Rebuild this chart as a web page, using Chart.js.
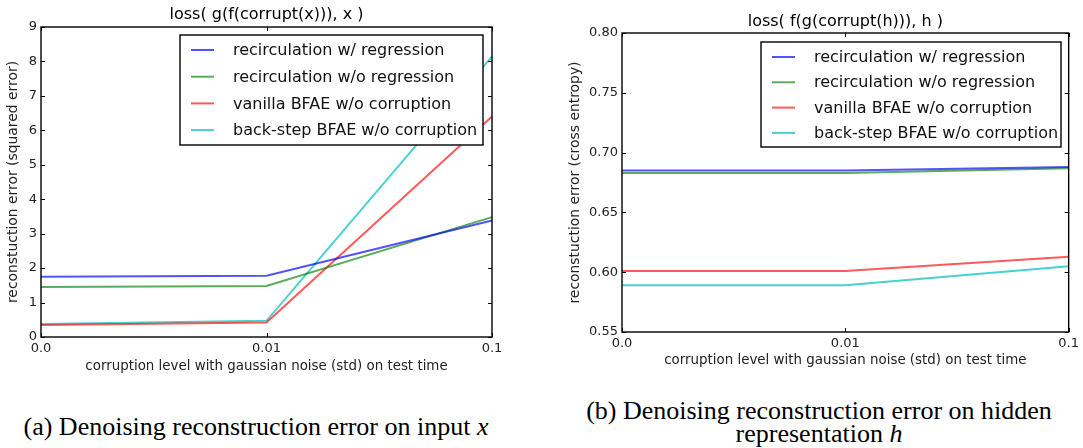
<!DOCTYPE html>
<html>
<head>
<meta charset="utf-8">
<script src="https://cdn.jsdelivr.net/npm/chart.js@4"></script>
<style>
  body { margin: 0; background: #fff; width: 1083px; height: 448px; position: relative; overflow: hidden; }
  .wrap { position: absolute; }
  .cap { position: absolute; font-family: 'Liberation Serif', serif; font-size: 26px; color: #000; text-align: center; white-space: nowrap; }
</style>
</head>
<body>
<div class="wrap" style="left:0;top:0"><canvas id="inputChart" width="540" height="380"></canvas></div>
<div class="wrap" style="left:555px;top:0"><canvas id="hiddenChart" width="528" height="375"></canvas></div>
<div class="cap" style="left:0;width:512px;top:413px;line-height:28px">(a) Denoising reconstruction error on input <i>x</i></div>
<div class="cap" style="left:560px;width:518px;top:399px;line-height:23px">(b) Denoising reconstruction error on hidden<br>representation <i>h</i></div>
<script>
// noise level on test time (categorical, equally spaced)
const noiseLevels = ['0.0', '0.01', '0.1'];
const seriesNames = ['recirculation w/ regression', 'recirculation w/o regression',
  'vanilla BFAE w/o corruption', 'back-step BFAE w/o corruption'];

// (a) squared error on input x
const inputRegression   = [1.75, 1.78, 3.38];
const inputNoRegression = [1.45, 1.48, 3.48];
const inputVanilla      = [0.35, 0.42, 6.40];
const inputBackStep     = [0.38, 0.47, 8.15];

// (b) cross entropy on hidden h
const hiddenRegression   = [0.685, 0.685, 0.688];
const hiddenNoRegression = [0.683, 0.683, 0.687];
const hiddenVanilla      = [0.601, 0.601, 0.613];
const hiddenBackStep     = [0.589, 0.589, 0.605];

const colors = ['rgba(0,0,255,0.68)', 'rgba(0,128,0,0.65)', 'rgba(255,0,0,0.65)', 'rgba(0,191,191,0.72)'];

Chart.defaults.font.family = 'DejaVu Sans';
Chart.defaults.color = '#222';

// matplotlib-ish frame, inward ticks, title and boxed legend
const mplLook = {
  id: 'mplLook',
  afterDatasetsDraw(chart, args, opts) {
    const ctx = chart.ctx;
    const a = chart.chartArea;
    const xs = chart.scales.x, ys = chart.scales.y;
    ctx.save();
    ctx.strokeStyle = '#000';
    ctx.lineWidth = 1;
    ys.ticks.forEach(t => {
      const py = Math.round(ys.getPixelForValue(t.value)) + 0.5;
      ctx.beginPath();
      ctx.moveTo(a.left, py); ctx.lineTo(a.left + 4, py);
      ctx.moveTo(a.right, py); ctx.lineTo(a.right - 4, py);
      ctx.stroke();
    });
    noiseLevels.forEach((l, i) => {
      const px = Math.round(xs.getPixelForValue(i)) + 0.5;
      ctx.beginPath();
      ctx.moveTo(px, a.bottom); ctx.lineTo(px, a.bottom - 4);
      ctx.moveTo(px, a.top); ctx.lineTo(px, a.top + 4);
      ctx.stroke();
    });
    ctx.lineWidth = 1.4;
    ctx.strokeRect(a.left, a.top, a.right - a.left, a.bottom - a.top);

    // title
    ctx.fillStyle = '#000';
    ctx.font = '16px "DejaVu Sans"';
    ctx.textAlign = 'center';
    ctx.textBaseline = 'middle';
    ctx.fillText(opts.title, (a.left + a.right) / 2, opts.titleY);

    // legend
    const lg = opts.legend;
    ctx.fillStyle = '#fff';
    ctx.fillRect(lg.x, lg.y, lg.w, lg.h);
    ctx.lineWidth = 1.4;
    ctx.strokeRect(lg.x, lg.y, lg.w, lg.h);
    ctx.font = '16px "DejaVu Sans"';
    ctx.textAlign = 'left';
    chart.data.datasets.forEach((ds, i) => {
      const y = lg.firstRow + i * lg.rowGap;
      ctx.strokeStyle = ds.borderColor;
      ctx.lineWidth = 2;
      ctx.beginPath();
      ctx.moveTo(lg.x + 11, y); ctx.lineTo(lg.x + 34, y);
      ctx.stroke();
      ctx.fillStyle = '#111';
      ctx.fillText(ds.label, lg.x + 53, y + 1);
    });
    ctx.restore();
  }
};

function makeChart(id, series, cfg) {
  new Chart(document.getElementById(id), {
    type: 'line',
    data: {
      labels: noiseLevels,
      datasets: series.map((data, i) => ({
        label: seriesNames[i],
        data,
        borderColor: colors[i],
        borderWidth: 2,
        pointRadius: 0,
        tension: 0,
        fill: false
      }))
    },
    options: {
      responsive: false,
      animation: false,
      layout: { padding: cfg.padding },
      plugins: {
        legend: { display: false },
        tooltip: { enabled: false },
        mplLook: { title: cfg.title, titleY: cfg.titleY, legend: cfg.legend }
      },
      scales: {
        x: {
          offset: false,
          grid: { display: false, drawTicks: false },
          border: { display: false },
          ticks: { font: { size: 13 }, padding: 4, maxRotation: 0, color: '#222' },
          title: { display: true, text: 'corruption level with gaussian noise (std) on test time',
                   font: { size: 13.4 }, color: '#222', padding: { top: 0, bottom: cfg.xTitlePad } },
          afterFit(s) { s.height = cfg.xHeight; }
        },
        y: {
          min: cfg.yMin, max: cfg.yMax,
          grid: { display: false, drawTicks: false },
          border: { display: false },
          ticks: { stepSize: cfg.yStep, font: { size: 13 }, padding: 4, color: '#222',
                   callback: cfg.yFormat },
          title: { display: true, text: cfg.yTitle, font: { size: 13.9 }, color: '#222',
                   padding: { top: cfg.yTitlePad, bottom: 0 } },
          afterFit(s) { s.width = cfg.yWidth; }
        }
      }
    },
    plugins: [mplLook]
  });
}

makeChart('inputChart', [inputRegression, inputNoRegression, inputVanilla, inputBackStep], {
  padding: { top: 27, right: 48, bottom: 0, left: 0 },
  title: 'loss( g(f(corrupt(x))), x )', titleY: 15,
  yMin: 0, yMax: 9, yStep: 1, yFormat: v => String(v),
  yTitle: 'reconstuction error (squared error)', yTitlePad: 4.6,
  yWidth: 41, xHeight: 43, xTitlePad: 5,
  legend: { x: 180, y: 35, w: 303, h: 110, firstRow: 50, rowGap: 26.7 }
});

makeChart('hiddenChart', [hiddenRegression, hiddenNoRegression, hiddenVanilla, hiddenBackStep], {
  padding: { top: 33, right: 14, bottom: 0, left: 0 },
  title: 'loss( f(g(corrupt(h))), h )', titleY: 22,
  yMin: 0.55, yMax: 0.8, yStep: 0.05, yFormat: v => v.toFixed(2),
  yTitle: 'reconstuction error (cross entropy)', yTitlePad: 11.6,
  yWidth: 67, xHeight: 43, xTitlePad: 6,
  legend: { x: 206, y: 42, w: 300, h: 105, firstRow: 57, rowGap: 25.3 }
});
</script>
</body>
</html>
